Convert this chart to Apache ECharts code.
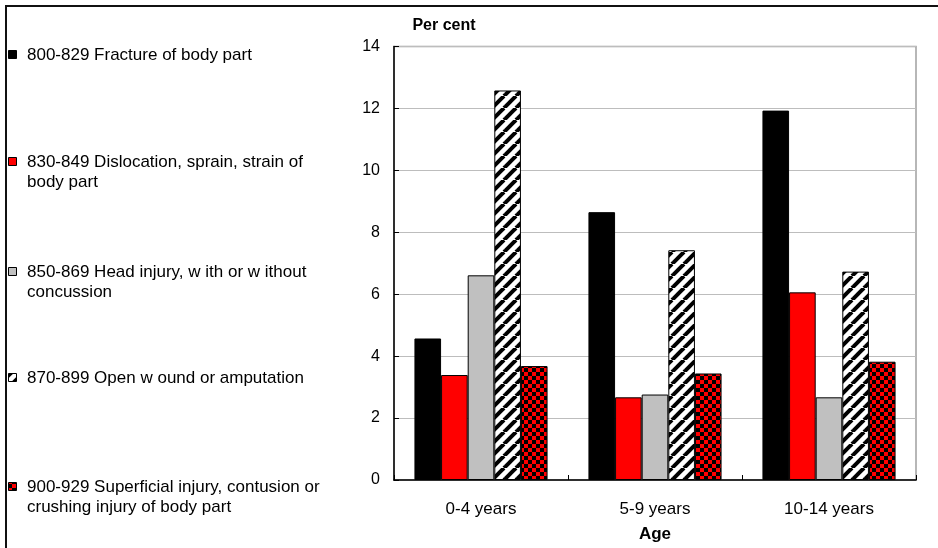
<!DOCTYPE html>
<html>
<head>
<meta charset="utf-8">
<title>Injury type by age</title>
<script src="https://cdn.jsdelivr.net/npm/echarts@6/dist/echarts.min.js"></script>
<style>
  html, body { margin: 0; padding: 0; background: #fff; }
  #chart { width: 938px; height: 548px; }
</style>
</head>
<body>
<div id="chart"></div>
<script>
// Age groups along the category axis
var ageGroups = ['0-4 years', '5-9 years', '10-14 years'];

// Injury categories (legend labels, wrapped as printed)
var injuryNames = [
  '800-829 Fracture of body part',
  '830-849 Dislocation, sprain, strain of\nbody part',
  '850-869 Head injury, w ith or w ithout\nconcussion',
  '870-899 Open w ound or amputation',
  '900-929 Superficial injury, contusion or\ncrushing injury of body part'
];

// Share of injuries (per cent) in each age group
var fracture     = [4.57, 8.65, 11.93];
var dislocation  = [3.39, 2.67, 6.06];
var headInjury   = [6.61, 2.76, 2.67];
var openWound    = [12.58, 7.42, 6.73];
var superficial  = [3.68, 3.44, 3.82];

// Value axis ticks
var yTicks = [0, 2, 4, 6, 8, 10, 12, 14];

var FONT = "'Liberation Sans', Arial, sans-serif";

// Diagonal black/white hatch tile
function hatchTile() {
  var s = 12;
  var c = document.createElement('canvas');
  c.width = s; c.height = s;
  var g = c.getContext('2d');
  g.fillStyle = '#fff';
  g.fillRect(0, 0, s, s);
  g.strokeStyle = '#000';
  g.lineWidth = 4;
  for (var x0 = -s; x0 <= s; x0 += s) {
    g.beginPath();
    g.moveTo(x0, s);
    g.lineTo(x0 + s, 0);
    g.stroke();
  }
  return c;
}

// Red/black checkerboard tile
function checkerTile() {
  var c = document.createElement('canvas');
  c.width = 8; c.height = 8;
  var g = c.getContext('2d');
  g.fillStyle = '#ff0000';
  g.fillRect(0, 0, 8, 8);
  g.fillStyle = '#000';
  g.fillRect(4, 0, 4, 4);
  g.fillRect(0, 4, 4, 4);
  return c;
}

var fills = [
  '#000000',
  '#ff0000',
  '#c0c0c0',
  { image: hatchTile(), repeat: 'repeat' },
  { image: checkerTile(), repeat: 'repeat' }
];

var seriesValues = [fracture, dislocation, headInjury, openWound, superficial];

var series = seriesValues.map(function (vals, i) {
  return {
    name: injuryNames[i],
    type: 'bar',
    data: vals,
    barGap: '0%',
    barCategoryGap: '23.5%',
    itemStyle: { color: fills[i], borderColor: '#000', borderWidth: 1 },
    emphasis: { disabled: true }
  };
});

// Key down the left side: swatch beside the first line of each label
var keyLineCentres = [55, 162, 272, 378, 487];
var keyGraphics = [];
injuryNames.forEach(function (name, i) {
  var cy = keyLineCentres[i];
  keyGraphics.push({
    type: 'rect',
    silent: true,
    shape: { x: 8.5, y: cy - 4.5, width: 8, height: 8 },
    style: { fill: fills[i], stroke: '#000', lineWidth: 1 }
  });
  keyGraphics.push({
    type: 'text',
    silent: true,
    style: {
      x: 27, y: cy - 10,
      text: name,
      font: '17px ' + FONT,
      lineHeight: 20,
      fill: '#000',
      verticalAlign: 'top'
    }
  });
});

var chart = echarts.init(document.getElementById('chart'), null, { renderer: 'canvas' });

chart.setOption({
  animation: false,
  backgroundColor: '#fff',
  textStyle: { fontFamily: FONT },
  grid: {
    left: 394,
    right: 22,
    top: 46.5,
    bottom: 66,
    show: true,
    borderColor: '#a0a0a0',
    borderWidth: 1.5,
    backgroundColor: 'transparent'
  },
  xAxis: {
    type: 'category',
    data: ageGroups,
    name: 'Age',
    nameLocation: 'middle',
    nameGap: 46,
    nameTextStyle: { fontFamily: FONT, fontSize: 17, fontWeight: 'bold', color: '#000' },
    axisLine: { lineStyle: { color: '#000', width: 1.5 } },
    axisTick: { show: true, inside: true, length: 5, lineStyle: { color: '#000' } },
    axisLabel: { fontFamily: FONT, fontSize: 17, color: '#000', margin: 21 },
    splitLine: { show: false }
  },
  yAxis: {
    type: 'value',
    min: yTicks[0],
    max: yTicks[yTicks.length - 1],
    interval: yTicks[1] - yTicks[0],
    name: 'Per cent',
    nameLocation: 'end',
    nameGap: 13,
    nameTextStyle: { fontFamily: FONT, fontSize: 16, fontWeight: 'bold', color: '#000', padding: [0, 0, 0, 100] },
    axisLine: { show: true, lineStyle: { color: '#000', width: 1.5 } },
    axisTick: { show: true, inside: true, length: 5, lineStyle: { color: '#000' } },
    axisLabel: { fontFamily: FONT, fontSize: 16, color: '#000', margin: 14 },
    splitLine: { show: true, lineStyle: { color: '#bdbdbd', width: 1.2 } }
  },
  series: series,
  graphic: [{
    type: 'polyline',
    silent: true,
    shape: { points: [[6, 548], [6, 6], [938, 6]] },
    style: { stroke: '#111', lineWidth: 2, fill: null }
  }].concat(keyGraphics)
});
</script>
</body>
</html>
